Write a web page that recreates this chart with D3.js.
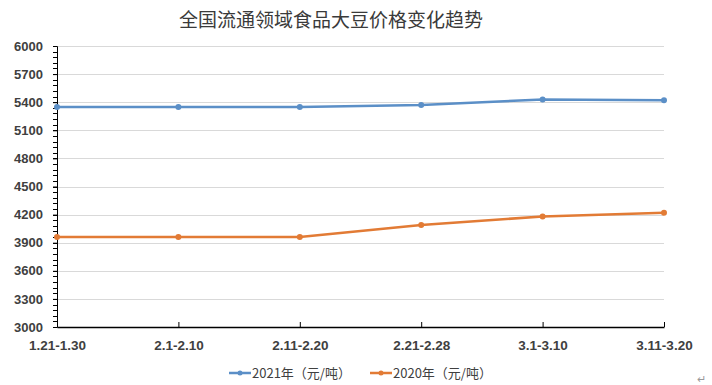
<!DOCTYPE html>
<html>
<head>
<meta charset="utf-8">
<script src="https://cdn.jsdelivr.net/npm/d3@7"></script>
<style>
  body{margin:0;background:#fff;}
  text{font-family:"Noto Sans CJK SC","Noto Sans",sans-serif;}
</style>
</head>
<body>
<div id="chart"></div>
<script>
// 数据
var categories=["1.21-1.30","2.1-2.10","2.11-2.20","2.21-2.28","3.1-3.10","3.11-3.20"];
var values2021=[5350,5350,5350,5370,5430,5420];
var values2020=[3960,3960,3960,4090,4180,4220];
var seriesNames=["2021年（元/吨）","2020年（元/吨）"];
var seriesColors=["#5b8fc7","#e27b35"];
var yTicks=[3000,3300,3600,3900,4200,4500,4800,5100,5400,5700,6000];

var W=712,H=385;
/*绘图区边界（避免使用全局 top）*/
var padL=57,padR=664,padT=46,padB=327;

var svg=d3.select("#chart").append("svg")
    .attr("width",W)
    .attr("height",H);

/*标题*/
svg.append("text")
    .attr("x",331).attr("y",27)
    .attr("text-anchor","middle")
    .style("font-size","19px")
    .style("fill","#3a3a3a")
    .text("全国流通领域食品大豆价格变化趋势");

var x=d3.scalePoint().domain(categories).range([padL,padR]).padding(0);
var y=d3.scaleLinear().domain([3000,6000]).range([padB,padT]);

/*网格线*/
svg.append("g").selectAll("line")
    .data(yTicks.filter(function(d){return d>3000;}))
    .enter().append("line")
    .attr("x1",padL).attr("x2",padR)
    .attr("y1",function(d){return Math.round(y(d))+0.5;})
    .attr("y2",function(d){return Math.round(y(d))+0.5;})
    .attr("stroke","#d9d9d9").attr("stroke-width",1);

/*y轴次刻度*/
var minor=d3.range(3000,6001,60);
svg.append("g").selectAll("line")
    .data(minor)
    .enter().append("line")
    .attr("x1",padL-4).attr("x2",padL)
    .attr("y1",function(d){return Math.round(y(d))+0.5;})
    .attr("y2",function(d){return Math.round(y(d))+0.5;})
    .attr("stroke","#000").attr("stroke-width",1);

/*y轴*/
var yAxis=d3.axisLeft(y)
    .tickValues(yTicks)
    .tickFormat(d3.format("d"))
    .tickSize(4)
    .tickPadding(10);
var gy=svg.append("g")
    .attr("transform","translate("+padL+",0)")
    .call(yAxis);
gy.select(".domain").attr("stroke","#000");
gy.selectAll("text")
    .style("font-family","'Liberation Sans',Arial,sans-serif")
    .style("font-size","13px")
    .style("font-weight","bold")
    .style("fill","#404040");

/*x轴*/
var xAxis=d3.axisBottom(x)
    .tickSizeInner(-5)
    .tickSizeOuter(0)
    .tickPadding(13);
var gx=svg.append("g")
    .attr("transform","translate(0,"+padB+")")
    .call(xAxis);
gx.select(".domain").attr("stroke","#000").attr("stroke-width",1.5);
gx.selectAll("text")
    .style("font-family","'Liberation Sans',Arial,sans-serif")
    .style("font-size","13.5px")
    .style("font-weight","bold")
    .style("fill","#404040");

/*折线*/
var line=d3.line()
    .x(function(d,i){return x(categories[i]);})
    .y(function(d){return y(d);});
[values2021,values2020].forEach(function(vals,k){
    svg.append("path")
        .datum(vals)
        .attr("d",line)
        .attr("fill","none")
        .attr("stroke",seriesColors[k])
        .attr("stroke-width",2.5);
    svg.append("g").selectAll("circle")
        .data(vals)
        .enter().append("circle")
        .attr("cx",function(d,i){return x(categories[i]);})
        .attr("cy",function(d){return y(d);})
        .attr("r",3)
        .attr("fill",seriesColors[k]);
});

/*图例*/
var legendX=[229,370];
seriesNames.forEach(function(name,k){
    var g=svg.append("g").attr("transform","translate("+legendX[k]+",373)");
    g.append("line")
        .attr("x1",0).attr("x2",22)
        .attr("stroke",seriesColors[k]).attr("stroke-width",2.5);
    g.append("circle").attr("cx",11).attr("r",2.5).attr("fill",seriesColors[k]);
    g.append("text")
        .attr("x",23).attr("y",5)
        .style("font-size","13px")
        .style("fill","#404040")
        .text(name);
});

/*段落标记*/
svg.append("text")
    .attr("x",697).attr("y",383)
    .style("font-size","11px")
    .style("fill","#999")
    .text("↵");
</script>
</body>
</html>
